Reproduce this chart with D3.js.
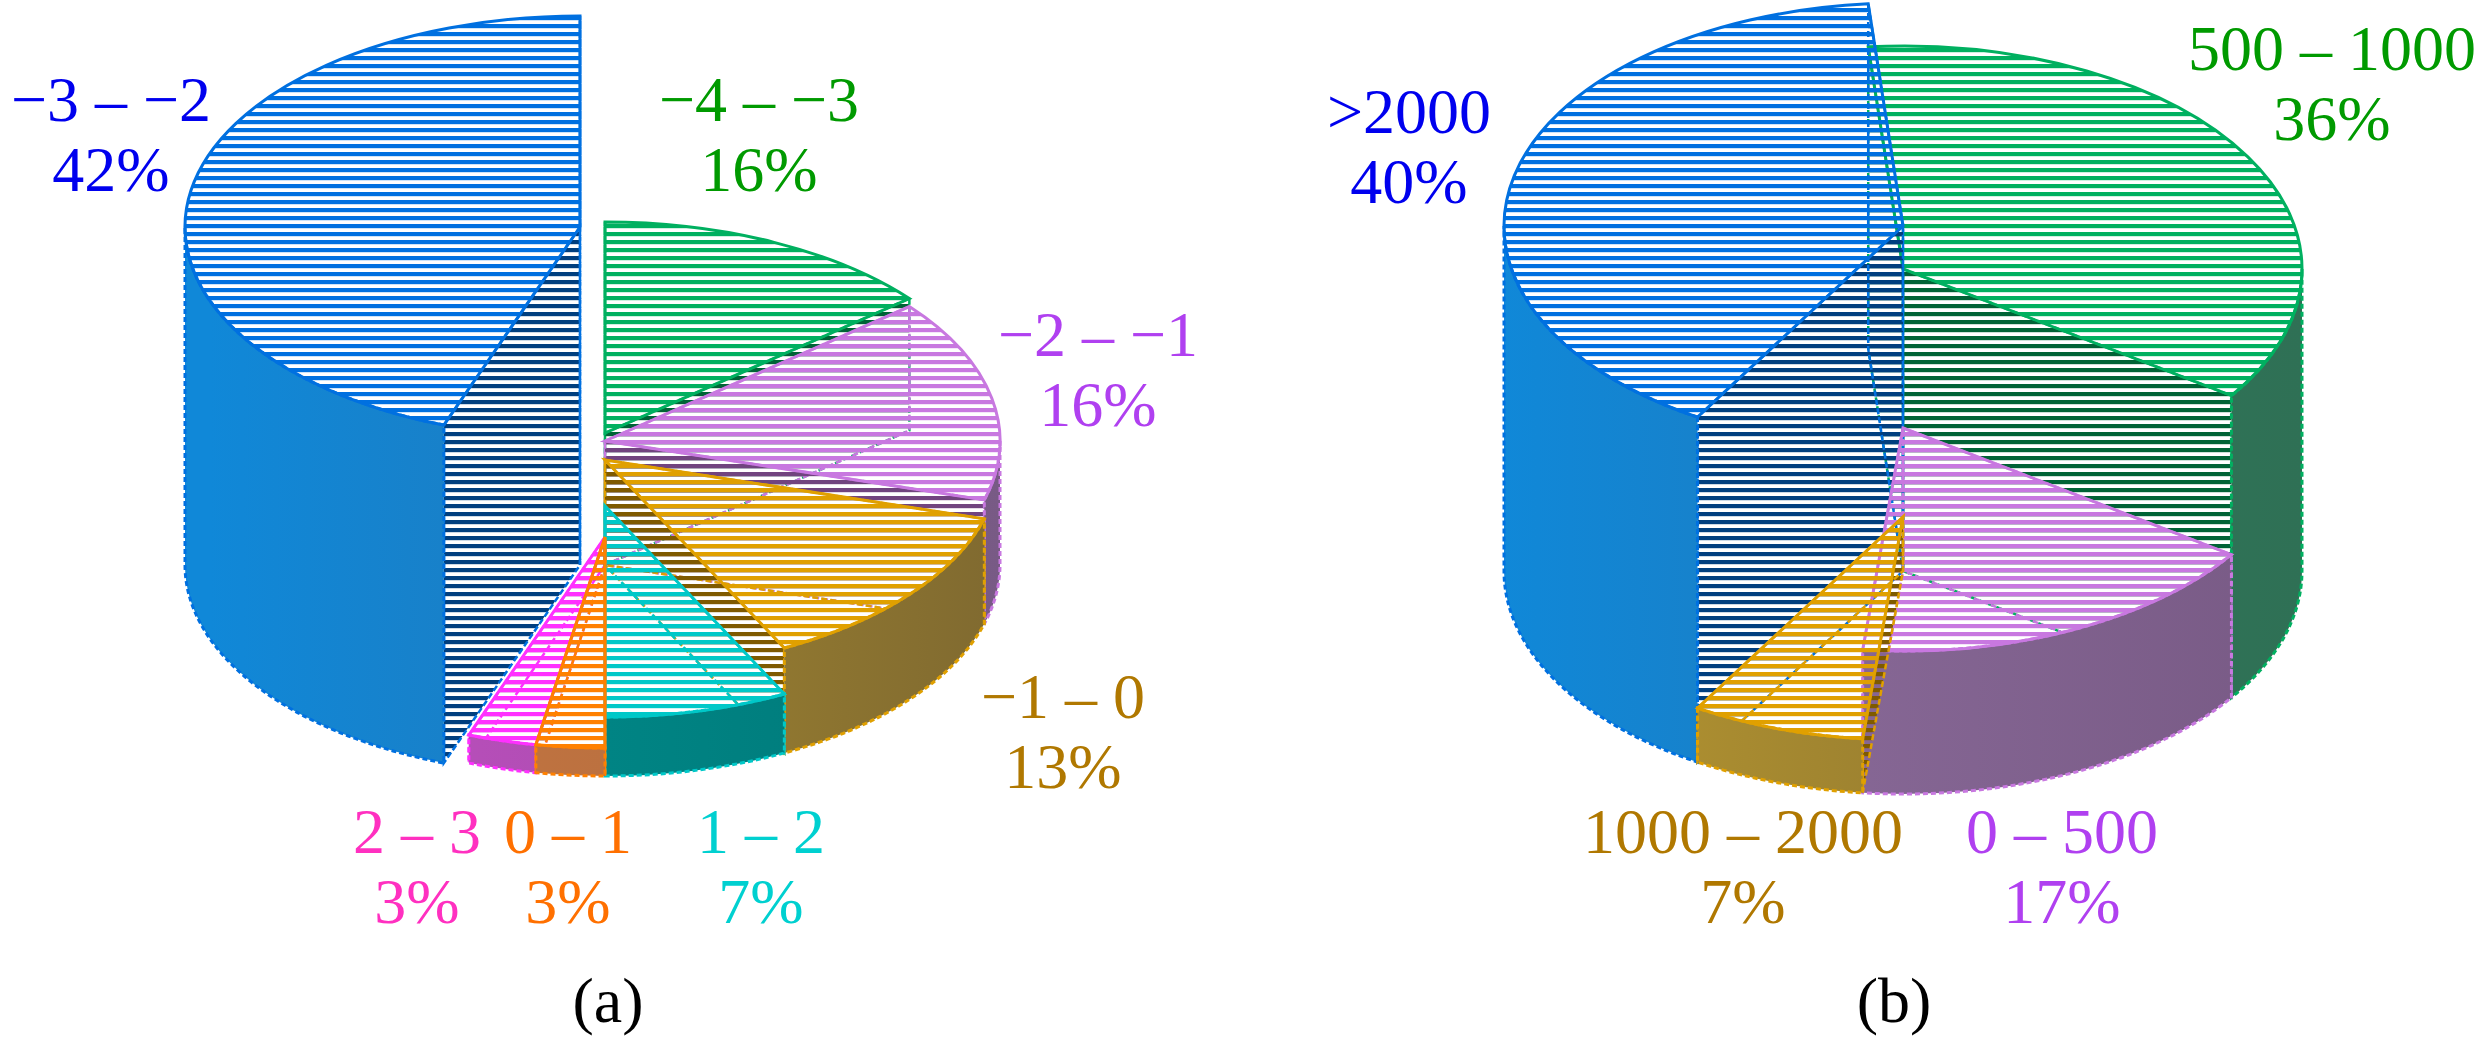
<!DOCTYPE html>
<html>
<head>
<meta charset="utf-8">
<script src="https://cdn.jsdelivr.net/npm/d3@7"></script>
<style>
  body { margin: 0; background: #fff; }
</style>
</head>
<body>
<script>
const width = 2484
const height = 1044
const font = "'Liberation Serif', 'Times New Roman', Times, serif"

// (a) shares of each range
const catsA = ['-4 – -3', '-2 – -1', '-1 – 0', '1 – 2', '0 – 1', '2 – 3', '-3 – -2']
const valuesA = [14, 15.5, 13, 7.5, 2.8, 2.8, 44.4]
const labelsA = ['−4 – −3', '−2 – −1', '−1 – 0', '1 – 2', '0 – 1', '2 – 3', '−3 – −2']
const pctA = ['16%', '16%', '13%', '7%', '3%', '3%', '42%']

// (b)
const catsB = ['500 – 1000', '0 – 500', '1000 – 2000', '>2000']
const valuesB = [36, 17, 7, 40]
const labelsB = ['500 – 1000', '0 – 500', '1000 – 2000', '>2000']
const pctB = ['36%', '17%', '7%', '40%']

const topColor = {
  green: '#00b060', purple: '#c878e0', gold: '#e0a000', cyan: '#00c8c8',
  orange: '#ff8000', magenta: '#ff30ff', blue: '#0070e0'
}
const sideColor = {
  green: ['#2f8060', '#2f7055'], purple: ['#9070a0', '#785a85'], gold: ['#b89830', '#806a30'],
  cyan: ['#009090', '#007878'], orange: ['#c87840', '#b06a40'], magenta: ['#c050c0', '#a04aa8'],
  blue: ['#1088d8', '#2a70a8']
}
const textColor = {
  green: '#009a00', purple: '#b040f0', gold: '#b07800', cyan: '#00d0d0',
  orange: '#ff7000', magenta: '#ff30c0', blue: '#0000ee'
}

const pieA = {
  cx: 605, cy: 565, rx: 395, ry: 211, start: 0,
  colors: ['green', 'purple', 'gold', 'cyan', 'orange', 'magenta', 'blue'],
  thick: [132, 124, 105, 59, 28, 28, 338],
  shift: [0, 0, 0, 0, 0, 0, -25],
  labelPos: [[759, 99], [1098, 334], [1063, 696], [761, 831], [568, 831], [417, 831], [111, 99]],
  values: valuesA, labels: labelsA, pct: pctA, tag: '(a)', tagX: 608
}
const pieB = {
  cx: 1903, cy: 571, rx: 399, ry: 223, start: -5,
  colors: ['green', 'purple', 'gold', 'blue'],
  thick: [302, 143, 54, 345],
  shift: [0, 0, 0, 0],
  labelPos: [[2332, 48], [2062, 831], [1743, 831], [1409, 111]],
  values: valuesB, labels: labelsB, pct: pctB, tag: '(b)', tagX: 1894
}

const svg = d3.select('body').append('svg').attr('width', width).attr('height', height)
const defs = svg.append('defs')

function hatch(id, color) {
  const p = defs.append('pattern').attr('id', id)
    .attr('patternUnits', 'userSpaceOnUse').attr('width', 8).attr('height', 8)
  p.append('rect').attr('y', 0).attr('width', 8).attr('height', 4.2).attr('fill', color)
}
Object.keys(topColor).forEach(k => {
  hatch('h-' + k, topColor[k])
  hatch('hd-' + k, d3.color(topColor[k]).darker(1.6))
})

const rad = Math.PI / 180

function drawPie(cfg, key) {
  const g = svg.append('g')
  const pie = d3.pie().sort(null).value(d => d)
    .startAngle(cfg.start * rad).endAngle((cfg.start + 360) * rad)
  const arcs = pie(cfg.values).map((d, i) => ({
    ...d, i, color: cfg.colors[i],
    cx: cfg.cx + cfg.shift[i], h: cfg.thick[i]
  }))

  // side gradients span the pie width
  arcs.forEach(d => {
    const lg = defs.append('linearGradient').attr('id', `s-${key}-${d.i}`)
      .attr('gradientUnits', 'userSpaceOnUse')
      .attr('x1', cfg.cx - cfg.rx).attr('x2', cfg.cx + cfg.rx).attr('y1', 0).attr('y2', 0)
    lg.append('stop').attr('offset', 0).attr('stop-color', sideColor[d.color][0])
    lg.append('stop').attr('offset', 1).attr('stop-color', sideColor[d.color][1])
  })

  const pt = (d, a, up) => [d.cx + cfg.rx * Math.sin(a), cfg.cy - up - cfg.ry * Math.cos(a)]
  const arcTo = (p, large, sweep) => `A${cfg.rx},${cfg.ry} 0 ${large} ${sweep} ${p[0]},${p[1]}`

  const order = arcs.slice().sort((a, b) =>
    Math.cos((b.startAngle + b.endAngle) / 2) - Math.cos((a.startAngle + a.endAngle) / 2))

  order.forEach(d => {
    const a0 = d.startAngle, a1 = d.endAngle
    const ctop = [d.cx, cfg.cy - d.h], cbot = [d.cx, cfg.cy]

    // radial inner faces
    ;[a0, a1].forEach(a => {
      const t = pt(d, a, d.h), b = pt(d, a, 0)
      g.append('path')
        .attr('d', `M${ctop}L${t}L${b}L${cbot}Z`)
        .attr('fill', `url(#hd-${d.color})`)
        .attr('stroke', topColor[d.color]).attr('stroke-width', 2.5)
        .attr('stroke-dasharray', '6,3')
    })

    // outer wall, front half only
    const b0 = Math.max(a0, 90 * rad), b1 = Math.min(a1, 270 * rad)
    if (b1 > b0) {
      const large = (b1 - b0) > Math.PI ? 1 : 0
      const t0 = pt(d, b0, d.h), t1 = pt(d, b1, d.h), q0 = pt(d, b0, 0), q1 = pt(d, b1, 0)
      g.append('path')
        .attr('d', `M${t0}${arcTo(t1, large, 1)}L${q1}${arcTo(q0, large, 0)}Z`)
        .attr('fill', `url(#s-${key}-${d.i})`)
        .attr('stroke', topColor[d.color]).attr('stroke-width', 3)
        .attr('stroke-dasharray', '5,3')
    }

    // hatched top
    const large = (a1 - a0) > Math.PI ? 1 : 0
    g.append('path')
      .attr('d', `M${ctop}L${pt(d, a0, d.h)}${arcTo(pt(d, a1, d.h), large, 1)}Z`)
      .attr('fill', `url(#h-${d.color})`)
      .attr('stroke', topColor[d.color]).attr('stroke-width', 3)
  })

  // labels
  arcs.forEach(d => {
    const [x, y] = cfg.labelPos[d.i]
    const t = g.append('text').attr('text-anchor', 'middle').attr('font-family', font)
      .attr('font-size', 64).attr('fill', textColor[d.color])
    t.append('tspan').attr('x', x).attr('y', y + 22).text(cfg.labels[d.i])
    t.append('tspan').attr('x', x).attr('y', y + 22 + 70).text(cfg.pct[d.i])
  })

  g.append('text').attr('x', cfg.tagX).attr('y', 1022).attr('text-anchor', 'middle')
    .attr('font-family', font).attr('font-size', 64).attr('fill', '#000').text(cfg.tag)
}

drawPie(pieA, 'a')
drawPie(pieB, 'b')
</script>
</body>
</html>
